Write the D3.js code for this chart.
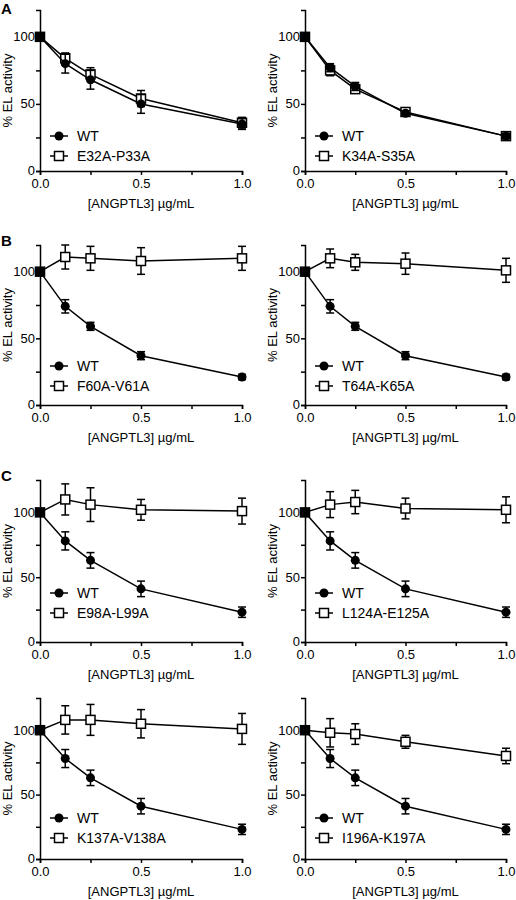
<!DOCTYPE html>
<html>
<head>
<meta charset="utf-8">
<script src="https://cdn.jsdelivr.net/npm/d3@7"></script>
<style>
  body { margin: 0; background: #fff; }
  svg { font-family: "Liberation Sans", Arial, sans-serif; }
</style>
</head>
<body>
<div id="chart"></div>
<script>
// doses of ANGPTL3 (µg/mL)
var doses = [0, 0.125, 0.25, 0.5, 1.0];
var xTicks = [0, 0.25, 0.5, 0.75, 1.0];
var xLabels = [0, 0.5, 1.0];
var yTicks = [0, 25, 50, 75, 100];
var yLabels = [0, 50, 100];

// WT series (same EL prep reused in B and C)
var wtA1 = [100, 80, 68, 50, 35],   wtA1Err = [0, 7, 7, 7, 4];
var wtA2 = [100, 77, 63, 43, 26],   wtA2Err = [0, 3, 3, 2, 2];
var wtB  = [100, 74, 59, 37, 21],   wtBErr  = [0, 5, 3, 3, 2];
var wtC  = [100, 78, 63, 41, 23],   wtCErr  = [0, 7, 6, 6, 4];

// mutant series
var mutNames = ["E32A-P33A", "K34A-S35A", "F60A-V61A", "T64A-K65A",
                "E98A-L99A", "L124A-E125A", "K137A-V138A", "I196A-K197A"];
var mutA1 = [100, 84, 72, 54, 36],   mutA1Err = [0, 4, 5, 6, 4];
var mutA2 = [100, 75, 61, 44, 26],   mutA2Err = [0, 4, 2, 2, 2];
var mutB1 = [100, 111, 110, 108, 110], mutB1Err = [0, 9, 9, 10, 9];
var mutB2 = [100, 110, 107, 106, 101], mutB2Err = [0, 7, 6, 8, 9];
var mutC1 = [100, 110, 106, 102, 101], mutC1Err = [0, 12, 13, 8, 10];
var mutC2 = [100, 106, 108, 103, 102], mutC2Err = [0, 10, 9, 8, 10];
var mutC3 = [100, 108, 108, 105, 101], mutC3Err = [0, 11, 12, 11, 12];
var mutC4 = [100, 98, 97, 91, 80],   mutC4Err = [0, 11, 8, 5, 6];

var W = 516, H = 900;
var svg = d3.select("#chart").append("svg")
  .attr("width", W).attr("height", H);

// panel layout: x of the y-axis, plot width, top and bottom of each row
var cols = [{x0: 40, x1: 242}, {x0: 305, x1: 506}];
var rows = [
  {top: 10,  y0: 171, ymax: 120, legY: 136},
  {top: 245, y0: 405, ymax: 120, legY: 366},
  {top: 480, y0: 642, ymax: 125, legY: 593},
  {top: 698, y0: 859, ymax: 125, legY: 818}
];

var panels = [
  {r: 0, c: 0, wt: wtA1, wtE: wtA1Err, mut: mutA1, mutE: mutA1Err, name: mutNames[0]},
  {r: 0, c: 1, wt: wtA2, wtE: wtA2Err, mut: mutA2, mutE: mutA2Err, name: mutNames[1]},
  {r: 1, c: 0, wt: wtB, wtE: wtBErr, mut: mutB1, mutE: mutB1Err, name: mutNames[2]},
  {r: 1, c: 1, wt: wtB, wtE: wtBErr, mut: mutB2, mutE: mutB2Err, name: mutNames[3]},
  {r: 2, c: 0, wt: wtC, wtE: wtCErr, mut: mutC1, mutE: mutC1Err, name: mutNames[4]},
  {r: 2, c: 1, wt: wtC, wtE: wtCErr, mut: mutC2, mutE: mutC2Err, name: mutNames[5]},
  {r: 3, c: 0, wt: wtC, wtE: wtCErr, mut: mutC3, mutE: mutC3Err, name: mutNames[6]},
  {r: 3, c: 1, wt: wtC, wtE: wtCErr, mut: mutC4, mutE: mutC4Err, name: mutNames[7]}
];

var lw = 1.5, cap = 4, rDot = 4.5, sq = 9;

function drawSeries(g, x, y, vals, errs, isMut) {
  var pts = doses.map(function(d, i) { return {x: d, y: vals[i], e: errs[i]}; });
  g.append("path").datum(pts)
    .attr("fill", "none").attr("stroke", "#000").attr("stroke-width", lw)
    .attr("d", d3.line().x(function(d) { return x(d.x); }).y(function(d) { return y(d.y); }));

  var eb = g.append("g").selectAll("g").data(pts.filter(function(d) { return d.e > 0; }))
    .enter().append("g").attr("stroke", "#000").attr("stroke-width", lw);
  eb.append("line")
    .attr("x1", function(d) { return x(d.x); }).attr("x2", function(d) { return x(d.x); })
    .attr("y1", function(d) { return y(d.y - d.e); }).attr("y2", function(d) { return y(d.y + d.e); });
  [-1, 1].forEach(function(s) {
    eb.append("line")
      .attr("x1", function(d) { return x(d.x) - cap; }).attr("x2", function(d) { return x(d.x) + cap; })
      .attr("y1", function(d) { return y(d.y + s * d.e); }).attr("y2", function(d) { return y(d.y + s * d.e); });
  });

  if (isMut) {
    // at dose 0 WT and mutant coincide, which reads as a solid square
    g.append("g").selectAll("rect").data(pts).enter().append("rect")
      .attr("x", function(d) { return x(d.x) - sq / 2; })
      .attr("y", function(d) { return y(d.y) - sq / 2; })
      .attr("width", sq).attr("height", sq)
      .attr("fill", function(d) { return d.x === 0 ? "#000" : "#fff"; })
      .attr("stroke", "#000").attr("stroke-width", lw);
  } else {
    g.append("g").selectAll("circle").data(pts).enter().append("circle")
      .attr("cx", function(d) { return x(d.x); })
      .attr("cy", function(d) { return y(d.y); })
      .attr("r", rDot).attr("fill", "#000");
  }
}

panels.forEach(function(p) {
  var col = cols[p.c], row = rows[p.r];
  var x = d3.scaleLinear().domain([0, 1]).range([col.x0, col.x1]);
  var y = d3.scaleLinear().domain([0, row.ymax]).range([row.y0, row.top]);
  var g = svg.append("g");

  // axes
  var xa = g.append("g").attr("transform", "translate(0," + row.y0 + ")")
    .call(d3.axisBottom(x).tickValues(xTicks).tickSizeOuter(0).tickSize(4).tickPadding(4)
      .tickFormat(function(d) { return xLabels.indexOf(d) >= 0 ? d3.format(".1f")(d) : ""; }));
  var ya = g.append("g").attr("transform", "translate(" + col.x0 + ",0)")
    .call(d3.axisLeft(y).tickValues(yTicks).tickSizeOuter(0).tickSize(4).tickPadding(1)
      .tickFormat(function(d) { return yLabels.indexOf(d) >= 0 ? d : ""; }));
  [xa, ya].forEach(function(a) {
    a.selectAll("path, line").attr("stroke", "#000").attr("stroke-width", lw);
    a.selectAll("text").attr("fill", "#000").style("font-size", "13px");
  });
  ya.selectAll("text").attr("dy", "0.3em");

  g.append("text")
    .attr("x", (col.x0 + col.x1) / 2).attr("y", row.y0 + 37)
    .attr("text-anchor", "middle").style("font-size", "13px")
    .text("[ANGPTL3] µg/mL");
  g.append("text")
    .attr("transform", "translate(" + (col.x0 - 28) + "," + ((row.top + row.y0) / 2) + ") rotate(-90)")
    .attr("text-anchor", "middle").style("font-size", "13px")
    .text("% EL activity");

  drawSeries(g, x, y, p.mut, p.mutE, true);
  drawSeries(g, x, y, p.wt, p.wtE, false);

  // legend
  var lx = col.x0 + 19;
  var leg = [{name: "WT", mut: false, yy: row.legY}, {name: p.name, mut: true, yy: row.legY + 20}];
  leg.forEach(function(l) {
    g.append("line").attr("x1", lx - 9).attr("x2", lx + 9)
      .attr("y1", l.yy).attr("y2", l.yy)
      .attr("stroke", "#000").attr("stroke-width", lw);
    if (l.mut) {
      g.append("rect").attr("x", lx - sq / 2).attr("y", l.yy - sq / 2)
        .attr("width", sq).attr("height", sq)
        .attr("fill", "#fff").attr("stroke", "#000").attr("stroke-width", lw);
    } else {
      g.append("circle").attr("cx", lx).attr("cy", l.yy).attr("r", rDot).attr("fill", "#000");
    }
    g.append("text").attr("x", lx + 18).attr("y", l.yy)
      .attr("dominant-baseline", "central").style("font-size", "14px")
      .text(l.name);
  });
});

// panel letters
[["A", 14], ["B", 246], ["C", 481]].forEach(function(t) {
  svg.append("text").attr("x", 1).attr("y", t[1])
    .style("font-size", "15px").style("font-weight", "bold").text(t[0]);
});
</script>
</body>
</html>
